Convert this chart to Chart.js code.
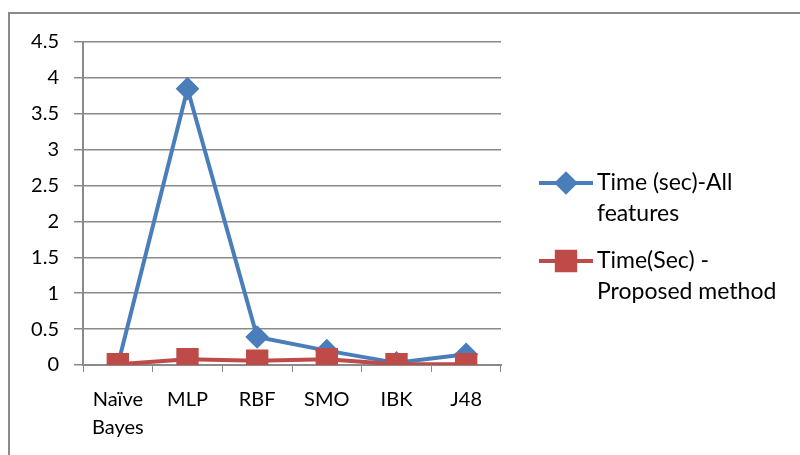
<!DOCTYPE html>
<html>
<head>
<meta charset="utf-8">
<script src="https://cdn.jsdelivr.net/npm/chart.js@4/dist/chart.umd.min.js"></script>
<style>
  html, body { margin: 0; padding: 0; background: #fff; }
  #wrap { position: relative; width: 800px; height: 455px; }
</style>
</head>
<body>
<div id="wrap"><canvas id="timeChart" width="800" height="455"></canvas></div>
<script>
// classifiers and timing (seconds)
const categories = [["Naïve", "Bayes"], "MLP", "RBF", "SMO", "IBK", "J48"];
const allFeatures = [0, 3.85, 0.39, 0.2, 0.03, 0.15];
const proposed = [0.01, 0.08, 0.06, 0.08, 0.01, 0.01];
const yTicks = [0, 0.5, 1, 1.5, 2, 2.5, 3, 3.5, 4, 4.5];

const legendLines = [
  ["Time (sec)-All", "features"],
  ["Time(Sec) -", "Proposed method"],
];

const BLUE = "#4a7ebb";
const RED = "#be4b48";
const GRID = "#8a8a8a";
const FONT = "Lato, 'Open Sans', sans-serif";

// outer frame: top and left edges only
const framePlugin = {
  id: "frame",
  beforeDraw(chart) {
    const ctx = chart.ctx;
    ctx.save();
    ctx.strokeStyle = "#8a8a8a";
    ctx.lineWidth = 2;
    ctx.beginPath();
    ctx.moveTo(9, 455);
    ctx.lineTo(9, 13);
    ctx.lineTo(800, 13);
    ctx.stroke();
    ctx.restore();
  },
};

// two-line legend on the right
const sideLegend = {
  id: "sideLegend",
  afterDraw(chart) {
    const ctx = chart.ctx;
    const rows = [183, 261];
    ctx.save();
    chart.data.datasets.forEach((ds, i) => {
      const y = rows[i];
      ctx.strokeStyle = ds.borderColor;
      ctx.lineWidth = 4;
      ctx.beginPath();
      ctx.moveTo(539, y);
      ctx.lineTo(593, y);
      ctx.stroke();
      ctx.fillStyle = ds.pointBackgroundColor;
      ctx.strokeStyle = ds.pointBorderColor;
      Chart.helpers.drawPoint(ctx, {
        pointStyle: ds.pointStyle,
        radius: ds.pointRadius,
        borderWidth: 1,
        rotation: 0,
      }, 566, y);
      ctx.fillStyle = "#000";
      ctx.font = "23px " + FONT;
      ctx.textBaseline = "middle";
      ctx.textAlign = "left";
      legendLines[i].forEach((t, k) => ctx.fillText(t, 597, y + k * 31));
    });
    ctx.restore();
  },
};

new Chart(document.getElementById("timeChart"), {
  type: "line",
  data: {
    labels: categories,
    datasets: [
      {
        label: "Time (sec)-All features",
        data: allFeatures,
        order: 1,
        borderColor: BLUE,
        borderWidth: 4,
        pointStyle: "rectRot",
        pointRadius: 9,
        pointBackgroundColor: BLUE,
        pointBorderColor: BLUE,
        tension: 0,
      },
      {
        label: "Time(Sec) - Proposed method",
        data: proposed,
        order: 0,
        borderColor: RED,
        borderWidth: 4,
        pointStyle: "rect",
        pointRadius: 13,
        pointBackgroundColor: RED,
        pointBorderColor: RED,
        tension: 0,
      },
    ],
  },
  options: {
    responsive: false,
    animation: false,
    layout: { padding: { left: 0, right: 299, top: 42, bottom: 8 } },
    plugins: {
      legend: { display: false },
      tooltip: { enabled: false },
    },
    scales: {
      x: {
        offset: true,
        afterFit(scale) { scale.height = 82; },
        grid: {
          display: true,
          offset: true,
          drawOnChartArea: false,
          tickLength: 7,
          color: GRID,
        },
        border: { color: GRID, width: 2 },
        ticks: {
          color: "#000",
          font: { family: FONT, size: 20, lineHeight: 1.4 },
          padding: 14,
          maxRotation: 0,
          autoSkip: false,
        },
      },
      y: {
        min: 0,
        max: 4.5,
        afterFit(scale) { scale.width = 83; },
        afterBuildTicks(scale) { scale.ticks = yTicks.map((v) => ({ value: v })); },
        grid: { color: GRID, lineWidth: 1.5, tickLength: 9 },
        border: { color: GRID, width: 2 },
        ticks: {
          color: "#000",
          font: { family: FONT, size: 20 },
          padding: 15,
          callback: (v) => String(v),
        },
      },
    },
  },
  plugins: [framePlugin, sideLegend],
});
</script>
</body>
</html>
